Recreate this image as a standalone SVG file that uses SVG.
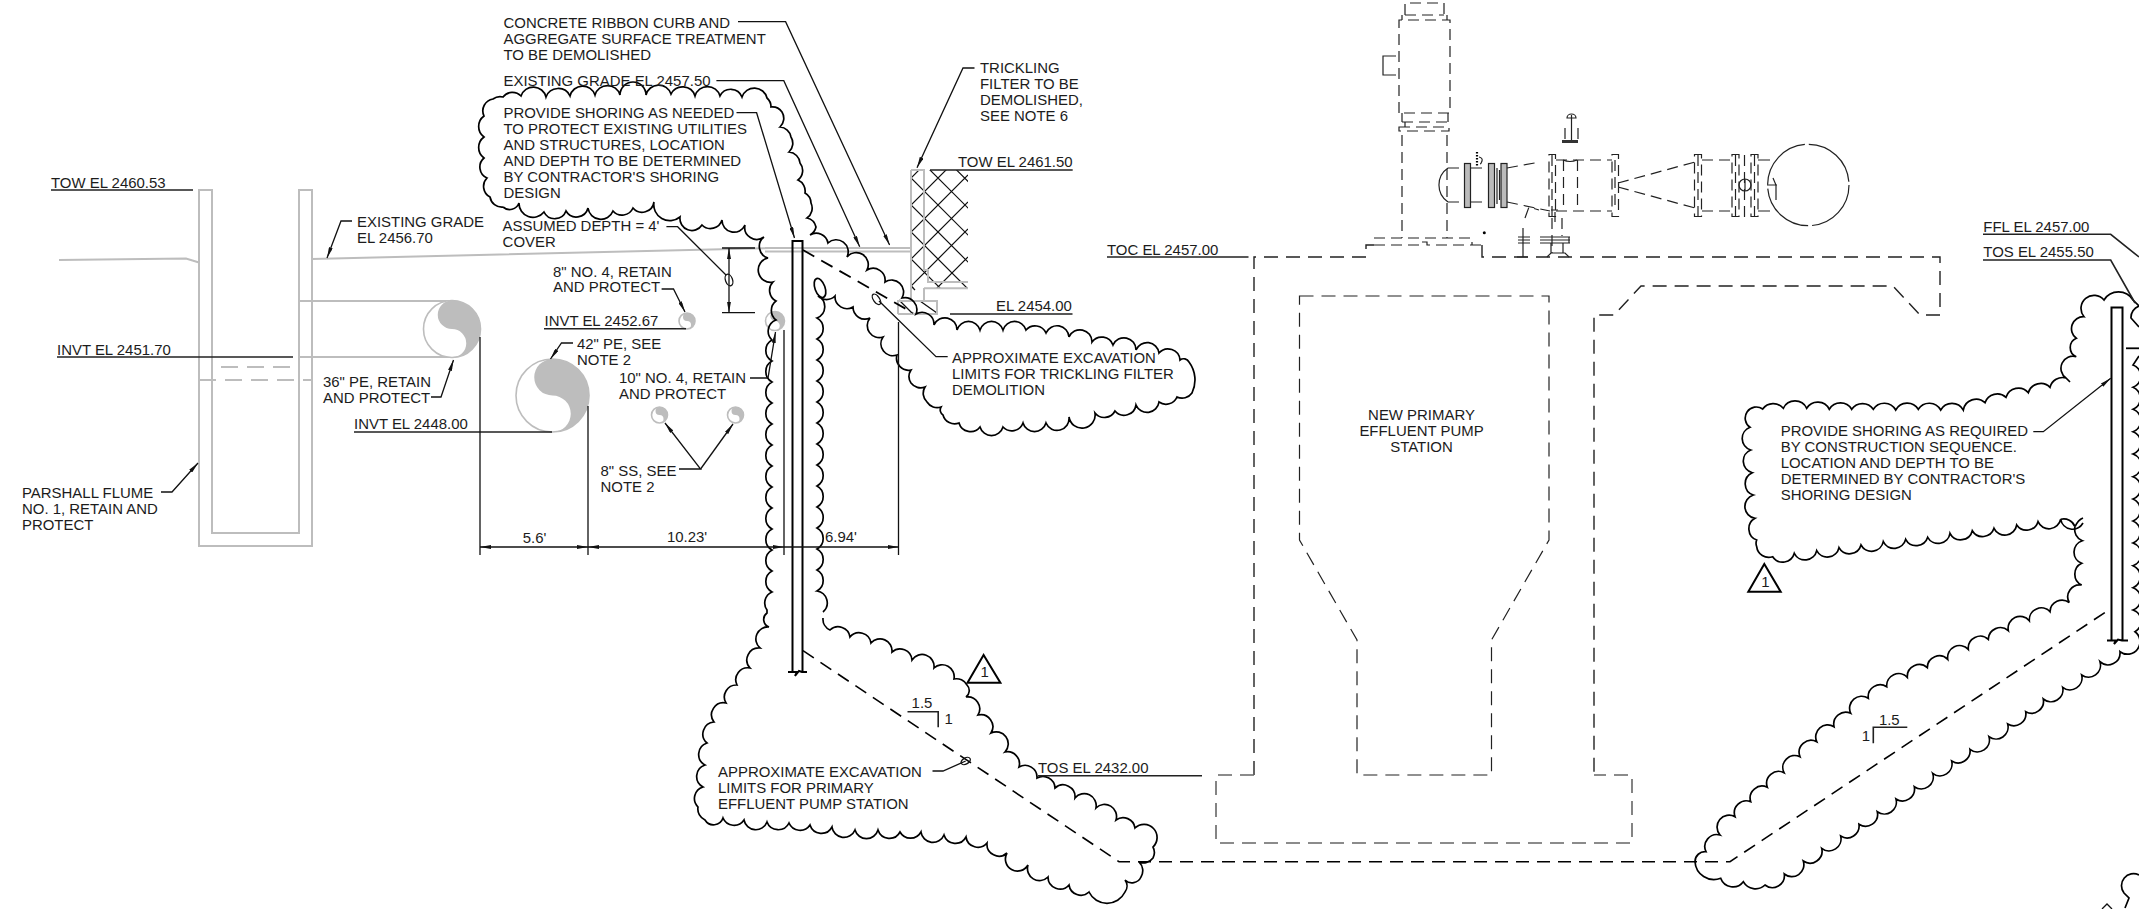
<svg xmlns="http://www.w3.org/2000/svg" width="2139" height="909" viewBox="0 0 2139 909">
<style>
text{font-family:"Liberation Sans",Arial,sans-serif;font-size:14.95px;fill:#1c1c1c}
.c{text-anchor:middle}
.l{fill:none;stroke:#111;stroke-width:1.3}
.u{fill:none;stroke:#222;stroke-width:1.6}
.g{fill:none;stroke:#bdbdbd;stroke-width:2}
.cl{fill:none;stroke:#000;stroke-width:1.7}
.d{fill:none;stroke:#222;stroke-width:1.4;stroke-dasharray:14 8}
.dg{fill:none;stroke:#666;stroke-width:1.6;stroke-dasharray:14 8}
.x{fill:none;stroke:#000;stroke-width:1.8;stroke-dasharray:13 8}
.e{fill:none;stroke:#222;stroke-width:1.2}
.ed{fill:none;stroke:#222;stroke-width:1.2;stroke-dasharray:11 6}
.f{fill:#bbb;stroke:#222;stroke-width:1.2}
.p{fill:none;stroke:#000;stroke-width:2}
.a{marker-end:url(#a)}
.aa{marker-start:url(#a);marker-end:url(#a)}
</style>
<defs>
<marker id="a" viewBox="0 0 11 4" refX="11" refY="2" markerWidth="11" markerHeight="4" markerUnits="userSpaceOnUse" orient="auto-start-reverse"><path d="M0 0L11 2L0 4z" fill="#111"/></marker>
<g id="yy"><circle r="10" fill="#fff" stroke="#bdbdbd" stroke-width="1.6" vector-effect="non-scaling-stroke"/><path d="M0-10A10 10 0 0 1 0 10A5 5 0 0 0 0 0A5 5 0 0 1 0-10z" fill="#bdbdbd"/></g>
<clipPath id="hc"><rect x="911" y="170" width="57" height="118"/></clipPath>
</defs>

<g id="flume">
<path class="g" d="M199 546V190H212V533H299V190H312V546Z"/>
<path class="g" d="M59 260L186 258.5L199 262.5M312 259L770 248M765 248H911M765 251.5H911"/>
<path class="g" stroke-width="1.5" d="M299 301H452M299 357H452"/>
<path class="g" stroke-dasharray="17 9" d="M221 367H299M199 380H312"/>
</g>

<g id="pipes">
<use href="#yy" transform="translate(452 329) scale(2.85)"/>
<use href="#yy" transform="translate(552.5 395.5) scale(3.65)"/>
<use href="#yy" transform="translate(687 321) scale(.8)"/>
<use href="#yy" transform="translate(775 321) scale(.95)"/>
<use href="#yy" transform="translate(659.5 415) scale(.8)"/>
<use href="#yy" transform="translate(735.5 415) scale(.8)"/>
</g>

<g id="trickling-filter">
<g clip-path="url(#hc)" class="e" stroke-width="1.4">
<path style="stroke:#111" d="M911 124.6L1068 281M911 151L1068 308M911 178L1068 335M911 205L1068 362M911 232L1068 389M911 259L1068 416M911 286L1068 443M911 178L968 121M911 205L968 148M911 232L968 175M911 259L968 202M911 286L968 229M911 314L968 257"/>
</g>
<path class="l" d="M920 301L937 313M899 300L912 313M911 286L915 290"/>
<path class="g" d="M911 170H924V270H928V282H968M924 288.3H968M924 288V301M911 170V301M898 314V301H937V314H898"/>
</g>

<g id="pump-station">
<path class="d" d="M1254 775V257H1366V245H1374M1482 245V257H1940V315M1940 315H1920L1893 286H1641L1614 315H1594V775"/>
<path class="dg" d="M1254 775H1216V843H1632V775H1594"/>
<path class="d" style="stroke-width:1.2" d="M1299.5 296H1549V540L1491.5 640V775H1357V640L1299.5 540Z"/>
</g>

<g id="equipment">
<path class="ed" d="M1405 15V3H1444V15M1405 15H1444M1399 113V20H1450V113H1399M1402 122H1448M1402 135V238M1447 135V238"/>
<path class="e" d="M1402 20V15M1447 20V15M1396 56H1383V75H1396M1402 113V122M1448 113V122M1405 122V127M1470 168H1482M1470 202H1482M1448 168H1459M1448 202H1459M1448 168A20.5 20.5 0 0 0 1448 202"/>
<path class="ed" d="M1399 127H1449V131H1399ZM1374 238H1472V245M1374 245H1421V242H1427V245H1482"/>
<circle cx="1484.3" cy="232.7" r="1.5" fill="#000"/>
<path stroke="#000" stroke-width="2.2" stroke-dasharray="1.5 1.5" d="M1477 152V167" fill="none"/>
<path class="e" d="M1479 157q4 1 3 4t-2 3"/>
<rect class="f" x="1464.5" y="163.5" width="6" height="44"/>
<rect class="f" x="1488.5" y="163.5" width="6" height="44"/>
<rect class="f" x="1501" y="163.5" width="6" height="44"/>
<path class="e" d="M1497 168V204M1499.5 170V200"/>
<path class="ed" d="M1507 168L1540 162M1507 202L1550 211"/>
<path class="ed" d="M1549 154.5H1555.5V216.5H1549ZM1552 155V217M1556 160H1612M1556 211H1612M1563.5 160V211M1577.5 160V211M1565 128V140M1578 128V140M1612 154.5H1618.5V216.5H1612ZM1615 160V211M1618 183L1695 162M1618 187L1695 208M1694.5 154.5H1701.5V216.5H1694.5ZM1698 155V217M1702 160H1732M1702 211H1732M1732 154.5H1739V216.5H1732ZM1735.5 155V217M1751 154.5H1758V216.5H1751ZM1754.5 155V217M1744.5 155V217"/>
<path class="e" d="M1563 160q7 3 14 0M1571.5 115V140M1567 118a4.5 4 0 0 1 9 0zM1758 160H1770M1758 211H1770M1767 185H1777M1773 178L1776 185L1776 200"/>
<rect x="1562" y="140" width="16" height="3" fill="#333"/>
<circle class="e" cx="1745" cy="185" r="6"/><path class="e" d="M1745 179V191"/>
<circle class="e" cx="1808.3" cy="185" r="40.7" stroke-dasharray="60 4"/>
<path class="ed" d="M1552 218V253M1562 218V236M1525 218L1529 207L1539 210"/>
<path class="e" d="M1551 210H1558M1540 237H1570M1540 240H1570M1540 243H1570M1551 243V253M1563 243V253M1547 257L1551 253H1565L1569 257M1523 228V257M1518 237H1530M1518 240H1530M1518 243H1530M1517 257H1528M1569 237V243M1555 212V222" />
</g>

<g id="sheet-piles">
<path class="p" d="M792.5 672V241H802.5V672M788 672H797L795 676L799 671L802 672H807"/>
<path class="p" d="M2111.5 640V307.5H2122.5V640M2107 640.5H2116L2114 644L2118 639.5L2122 640.5H2128"/>
</g>

<g id="excavation-lines">
<path class="x" d="M803 250L913 313"/>
<path class="x" style="stroke-width:1.6" d="M803 650.7L1119 861.7H1730L2111.7 608"/>
<path class="x" d="M2126 348.3H2139"/>
</g>

<g id="clouds">
<path class="cl" d="M503 207A12 12 0 0 1 490 197A12 12 0 0 1 487 178A12 12 0 0 1 484 158A13 13 0 0 1 484 137A13 13 0 0 1 484 116A12 12 0 0 1 493 99A12 12 0 0 1 503 97A12 12 0 0 1 521 96A13 13 0 0 1 546 97A13 13 0 0 1 570 96A13 13 0 0 1 595 95A13 13 0 0 1 620 95A13 13 0 0 1 646 95A13 13 0 0 1 671 94A13 13 0 0 1 695 96A13 13 0 0 1 720 96A12 12 0 0 1 742 97A13 13 0 0 1 767 98A12 12 0 0 1 771 107A12 12 0 0 1 782 112A12 12 0 0 1 780 127A12 12 0 0 1 791 137A12 12 0 0 1 789 152A12 12 0 0 1 800 163A12 12 0 0 1 798 180A12 12 0 0 1 805 193A12 12 0 0 1 811 203A12 12 0 0 1 807 218A12 12 0 0 1 816 227A12 12 0 0 1 810 235A12 12 0 0 1 828 243A12 12 0 0 1 847 257A12 12 0 0 1 867 270A12 12 0 0 1 885 282A12 12 0 0 1 902 298A12 12 0 0 1 916 314A12 12 0 0 1 934 325A12 12 0 0 1 957 330A12 12 0 0 1 980 330A12 12 0 0 1 1003 330A12 12 0 0 1 1026 330A12 12 0 0 1 1046 333A12 12 0 0 1 1069 337A12 12 0 0 1 1092 342A12 12 0 0 1 1113 345A12 12 0 0 1 1136 350A12 12 0 0 1 1159 353A12 12 0 0 1 1180 360A6 6 0 0 1 1189 362A30 30 0 0 1 1192 393A12 12 0 0 1 1177 397A12 12 0 0 1 1159 402A12 12 0 0 1 1136 405A12 12 0 0 1 1115 411A12 12 0 0 1 1095 413A12 12 0 0 1 1069 417A12 12 0 0 1 1046 423A12 12 0 0 1 1023 423A12 12 0 0 1 1003 427A12 12 0 0 1 980 427A12 12 0 0 1 959 423A12 12 0 0 1 943 415A6 6 0 0 1 941 407A12 12 0 0 1 927 402A12 12 0 0 1 925 387A12 12 0 0 1 911 383A12 12 0 0 1 911 370A12 12 0 0 1 897 355A12 12 0 0 1 883 337A12 12 0 0 1 870 318A12 12 0 0 1 853 307A12 12 0 0 1 835 296A12 12 0 0 1 818 296A12 12 0 0 1 817 318A12 12 0 0 1 817 339A12 12 0 0 1 817 360A12 12 0 0 1 817 381A12 12 0 0 1 817 402A12 12 0 0 1 817 423A12 12 0 0 1 817 444A12 12 0 0 1 817 465A12 12 0 0 1 817 486A12 12 0 0 1 817 507A12 12 0 0 1 817 528A12 12 0 0 1 817 549A12 12 0 0 1 817 570A12 12 0 0 1 817 591A12 12 0 0 1 823 612M823 618A12 12 0 0 0 830 630A12 12 0 0 1 850 637A12 12 0 0 1 871 643A12 12 0 0 1 892 652A12 12 0 0 1 912 660A12 12 0 0 1 934 668A12 12 0 0 1 954 679A12 12 0 0 1 967 685A8 8 0 0 1 966 697A12 12 0 0 1 978 715A12 12 0 0 1 991 733A12 12 0 0 1 1005 752A12 12 0 0 1 1019 767A12 12 0 0 1 1037 778A12 12 0 0 1 1055 788A12 12 0 0 1 1075 798A12 12 0 0 1 1096 808A12 12 0 0 1 1116 820A12 12 0 0 1 1135 828A13 13 0 0 1 1153 847A12 12 0 0 1 1153 858A12 12 0 0 1 1139 862A12 12 0 0 1 1141 877A10 10 0 0 1 1125 880A10 10 0 0 1 1125 892A20 20 0 0 1 1089 892A12 12 0 0 1 1069 885A12 12 0 0 1 1048 877A12 12 0 0 1 1028 865A12 12 0 0 1 1007 853A12 12 0 0 1 987 843A12 12 0 0 1 966 837A12 12 0 0 1 944 835A12 12 0 0 1 921 832A12 12 0 0 1 900 832A12 12 0 0 1 878 830A12 12 0 0 1 855 830A12 12 0 0 1 832 827A12 12 0 0 1 810 825A12 12 0 0 1 789 823A12 12 0 0 1 767 822A12 12 0 0 1 744 820A12 12 0 0 1 723 818A10 10 0 0 1 705 820A12 12 0 0 1 698 807A12 12 0 0 1 703 787A12 12 0 0 1 705 765A12 12 0 0 1 707 743A12 12 0 0 1 714 722A12 12 0 0 1 726 703A12 12 0 0 1 737 685A12 12 0 0 1 750 668A12 12 0 0 1 760 648A12 12 0 0 1 769 627A8 8 0 0 1 767 613L767 610A12 12 0 0 1 772 592A12 12 0 0 1 772 571A12 12 0 0 1 772 550A12 12 0 0 1 772 529A12 12 0 0 1 772 508A12 12 0 0 1 772 487A12 12 0 0 1 772 466A12 12 0 0 1 772 445A12 12 0 0 1 772 424A12 12 0 0 1 772 403A12 12 0 0 1 772 382A12 12 0 0 1 772 361A12 12 0 0 1 772 340A12 12 0 0 1 776 320A12 12 0 0 1 776 301A12 12 0 0 1 773 282A12 12 0 0 1 768 258A12 12 0 0 1 764 237A12 12 0 0 1 745 225A12 12 0 0 1 722 220A12 12 0 0 1 702 225A12 12 0 0 1 680 217A16 16 0 0 1 654 202A12 12 0 0 1 633 208A12 12 0 0 1 613 211A13 13 0 0 1 588 208A12 12 0 0 1 566 211A12 12 0 0 1 544 212A14 14 0 0 1 519 203A10 10 0 0 1 503 207"/>
<ellipse class="cl" cx="820" cy="288" rx="5" ry="10" transform="rotate(-20 820 288)"/>
<path class="cl" d="M1695 861.7A10 10 0 0 1 1706 851.7A12 12 0 0 1 1720 835A12 12 0 0 1 1735 816.7A12 12 0 0 1 1750.7 801.7A12 12 0 0 1 1767.3 787.3A12 12 0 0 1 1784 772.7A12 12 0 0 1 1800 756.7A12 12 0 0 1 1816.7 741.7A12 12 0 0 1 1834 726.7A12 12 0 0 1 1850.7 713.3A12 12 0 0 1 1868.3 698.3A12 12 0 0 1 1886.7 686.7A12 12 0 0 1 1907.3 677.3A12 12 0 0 1 1927.3 667.7A12 12 0 0 1 1947.7 659.3A12 12 0 0 1 1968.3 649.3A12 12 0 0 1 1988.3 639.3A12 12 0 0 1 2008.3 630.7A12 12 0 0 1 2029.3 620.7A12 12 0 0 1 2050 611.7A12 12 0 0 1 2069.3 602.7M2069.3 602.7A12 12 0 0 1 2081.7 585A12 12 0 0 1 2081.7 563.3A12 12 0 0 1 2082.3 540.7A12 12 0 0 1 2075 526.7M2075 526.7Q2078 520 2083 518M2075 526.7A12 12 0 0 0 2060.7 519.3"/>
<path class="cl" d="M2083 523A12 12 0 0 1 2060.7 519.3A12 12 0 0 1 2038 521.7A12 12 0 0 1 2016.7 525A12 12 0 0 1 1994 528.3A12 12 0 0 1 1972.3 530.7A12 12 0 0 1 1950 533.3A12 12 0 0 1 1927.7 537.3A12 12 0 0 1 1905.7 539.3A12 12 0 0 1 1883.3 541.7A12 12 0 0 1 1861 545A12 12 0 0 1 1839 547.7A12 12 0 0 1 1816.7 550.7A12 12 0 0 1 1794.3 553.3A12 12 0 0 1 1772.7 556.7A12 12 0 0 1 1756.7 546.7A9 9 0 0 1 1756.7 540A12 12 0 0 1 1755 518.3A12 12 0 0 1 1753.3 495A12 12 0 0 1 1752.3 472.7A12 12 0 0 1 1750.7 450A12 12 0 0 1 1750 427.3A10 10 0 0 1 1762.7 409A13 13 0 0 1 1783.3 408.3A13 13 0 0 1 1806.7 408.3A13 13 0 0 1 1829.3 409.3A13 13 0 0 1 1851.7 409.3A13 13 0 0 1 1873.3 409.3A13 13 0 0 1 1895.7 410A13 13 0 0 1 1918.3 409.3A13 13 0 0 1 1940.7 410A13 13 0 0 1 1963.3 410A13 13 0 0 1 1985 402.7A13 13 0 0 1 2006 397.3A13 13 0 0 1 2028.3 392.7A13 13 0 0 1 2050 387.3A13 13 0 0 1 2066 378L2070 382M2066 378A12 12 0 0 1 2076.3 356.7A10 10 0 0 1 2076.3 338.3A12 12 0 0 1 2084 316.7A12 12 0 0 1 2104 300A17 17 0 0 1 2133 300L2139 306"/>
<path class="cl" d="M2139 306A12 12 0 0 0 2131 318L2139 327M2139 356L2133 365A12 12 0 0 1 2133 387.3A12 12 0 0 1 2133 409.3A12 12 0 0 1 2133 431.7A12 12 0 0 1 2133 454A12 12 0 0 1 2133 476.7A12 12 0 0 1 2133 499A12 12 0 0 1 2133 521A12 12 0 0 1 2133 543A12 12 0 0 1 2133 565.7A12 12 0 0 1 2133 587.7A12 12 0 0 1 2133 610A12 12 0 0 1 2135 631.7A12 12 0 0 1 2120 651.7A12 12 0 0 1 2100 661.7A12 12 0 0 1 2081.7 675A12 12 0 0 1 2062.7 687.3A12 12 0 0 1 2043.3 699A12 12 0 0 1 2025.7 711.7A12 12 0 0 1 2007.7 724A12 12 0 0 1 1989 736.7A12 12 0 0 1 1970 749.3A12 12 0 0 1 1951.7 761A12 12 0 0 1 1932.7 773.3A12 12 0 0 1 1914.3 786.7A12 12 0 0 1 1896 799A12 12 0 0 1 1877.3 811.7A12 12 0 0 1 1859 824.3A12 12 0 0 1 1840.7 836A12 12 0 0 1 1821.7 848.3A12 12 0 0 1 1803.3 861A12 12 0 0 1 1784.3 874A12 12 0 0 1 1765 885A14 14 0 0 1 1743.3 881.7A13 13 0 0 1 1720.7 878.3A19 19 0 0 1 1695 861.7"/>
<path class="cl" d="M2139 875A12 12 0 0 0 2124 893L2129 898L2125 908"/>
<path class="l" d="M2102 909L2107 904L2112 909"/>
</g>

<g id="revision-triangles">
<path style="stroke:#000;stroke-width:2;fill:none" d="M983.6 655L1000.4 682.7H967.5Z"/>
<path style="stroke:#000;stroke-width:2;fill:none" d="M1764.3 564L1780.7 591.7H1748.3Z"/>
</g>

<g id="leaders">
<path class="u" d="M51 190H193M57 357H293M354 432H552M544 328.7H686M1983 234.3H2110.7L2139 257M1983 260H2110.7L2135 303M930 170H1072.7M950 314H1072.5M1107 257H1248.5M1038 775.7H1202"/>
<path class="l a" d="M352 221H341L327 258"/>
<path class="l a" d="M431 397H441L453.5 360"/>
<path class="l a" d="M161 492H172L198 463"/>
<path class="l a" d="M573 343H561.5L550.5 359"/>
<path class="l a" d="M661.6 289H673.5L685 312"/>
<path class="l" d="M666.4 226.7H677.6L726 275"/>
<ellipse class="l" cx="729" cy="280" rx="3.5" ry="6" transform="rotate(-20 729 280)"/>
<path class="l a" d="M738 21.7H785.6L889.6 245"/>
<path class="l a" d="M716.4 80.7H783.8L859.7 246.7"/>
<path class="l a" d="M736.5 112.7H756.6L794.5 238"/>
<path class="l a" d="M974.5 68H963L917 167.7"/>
<path class="l a" d="M750 378H768L775.5 332"/>
<path class="l a" d="M679 469H700.6L665 423"/>
<path class="l a" d="M700.6 469L733 424"/>
<path class="l" d="M947.7 356.7H936L879 301"/>
<ellipse class="l" cx="876.5" cy="299.3" rx="3" ry="6" transform="rotate(-35 876.5 299.3)"/>
<path class="l" d="M932.5 771H943L965.7 761"/>
<ellipse class="l" cx="965.7" cy="761" rx="5" ry="3" transform="rotate(-30 965.7 761)"/>
<path class="l a" d="M2033.3 431.7H2043.3L2110.7 378.3"/>
</g>

<g id="dimensions">
<path class="l" d="M480 337V555M588 406V555M784 330V555M898.5 322V555M722 248H755M722 312.7H755"/>
<path class="l aa" d="M480 547H588"/>
<path class="l aa" d="M588 547H784"/>
<path class="l a" d="M784 547H898.5"/>
<path class="l aa" d="M729 248V312.7"/>
<path class="u" stroke-width="1.4" d="M907.5 711.7H938.2V727.3M1907.3 727.3H1873.3V743.3"/>
</g>

<g id="labels">
<text x="51" y="188">TOW EL 2460.53</text>
<text x="57" y="355">INVT EL 2451.70</text>
<text x="354" y="429">INVT EL 2448.00</text>
<text><tspan x="357" y="227">EXISTING GRADE</tspan><tspan x="357" y="243">EL 2456.70</tspan></text>
<text><tspan x="323" y="387">36" PE, RETAIN</tspan><tspan x="323" y="403">AND PROTECT</tspan></text>
<text><tspan x="22" y="498">PARSHALL FLUME</tspan><tspan x="22" y="514">NO. 1, RETAIN AND</tspan><tspan x="22" y="530">PROTECT</tspan></text>
<text><tspan x="577" y="349">42" PE, SEE</tspan><tspan x="577" y="365">NOTE 2</tspan></text>
<text><tspan x="553" y="277">8" NO. 4, RETAIN</tspan><tspan x="553" y="292">AND PROTECT</tspan></text>
<text x="544.5" y="326">INVT EL 2452.67</text>
<text><tspan x="619" y="383">10" NO. 4, RETAIN</tspan><tspan x="619" y="399">AND PROTECT</tspan></text>
<text><tspan x="600.5" y="476">8" SS, SEE</tspan><tspan x="600.5" y="492">NOTE 2</tspan></text>
<text class="c" x="534.6" y="543">5.6'</text>
<text class="c" x="687" y="542">10.23'</text>
<text class="c" x="841" y="542">6.94'</text>
<text><tspan x="503.5" y="28">CONCRETE RIBBON CURB AND</tspan><tspan x="503.5" y="44">AGGREGATE SURFACE TREATMENT</tspan><tspan x="503.5" y="60">TO BE DEMOLISHED</tspan></text>
<text x="503.5" y="86">EXISTING GRADE EL 2457.50</text>
<text><tspan x="503.5" y="118">PROVIDE SHORING AS NEEDED</tspan><tspan x="503.5" y="134">TO PROTECT EXISTING UTILITIES</tspan><tspan x="503.5" y="150">AND STRUCTURES, LOCATION</tspan><tspan x="503.5" y="166">AND DEPTH TO BE DETERMINED</tspan><tspan x="503.5" y="182">BY CONTRACTOR'S SHORING</tspan><tspan x="503.5" y="198">DESIGN</tspan></text>
<text><tspan x="502.6" y="231">ASSUMED DEPTH = 4'</tspan><tspan x="502.6" y="247">COVER</tspan></text>
<text><tspan x="980" y="72.7">TRICKLING</tspan><tspan x="980" y="88.7">FILTER TO BE</tspan><tspan x="980" y="104.7">DEMOLISHED,</tspan><tspan x="980" y="120.7">SEE NOTE 6</tspan></text>
<text x="958" y="166.7">TOW EL 2461.50</text>
<text x="996" y="311">EL 2454.00</text>
<text><tspan x="952" y="362.7">APPROXIMATE EXCAVATION</tspan><tspan x="952" y="378.7">LIMITS FOR TRICKLING FILTER</tspan><tspan x="952" y="394.7">DEMOLITION</tspan></text>
<text x="1107" y="255">TOC EL 2457.00</text>
<text class="c"><tspan x="1421.5" y="420">NEW PRIMARY</tspan><tspan x="1421.5" y="436">EFFLUENT PUMP</tspan><tspan x="1421.5" y="452">STATION</tspan></text>
<text x="1983.3" y="231.7">FFL EL 2457.00</text>
<text x="1983.3" y="256.7">TOS EL 2455.50</text>
<text><tspan x="1780.7" y="436">PROVIDE SHORING AS REQUIRED</tspan><tspan x="1780.7" y="452">BY CONSTRUCTION SEQUENCE.</tspan><tspan x="1780.7" y="468">LOCATION AND DEPTH TO BE</tspan><tspan x="1780.7" y="484">DETERMINED BY CONTRACTOR'S</tspan><tspan x="1780.7" y="500">SHORING DESIGN</tspan></text>
<text><tspan x="718" y="776.7">APPROXIMATE EXCAVATION</tspan><tspan x="718" y="792.7">LIMITS FOR PRIMARY</tspan><tspan x="718" y="808.7">EFFLUENT PUMP STATION</tspan></text>
<text x="1038" y="772.7">TOS EL 2432.00</text>
<text class="c" x="922" y="708">1.5</text>
<text class="c" x="948.6" y="724.3">1</text>
<text class="c" x="1889.3" y="725">1.5</text>
<text class="c" x="1866" y="740.7">1</text>
<text class="c" x="984.6" y="677">1</text>
<text class="c" x="1765.3" y="586.7">1</text>
</g>
</svg>
